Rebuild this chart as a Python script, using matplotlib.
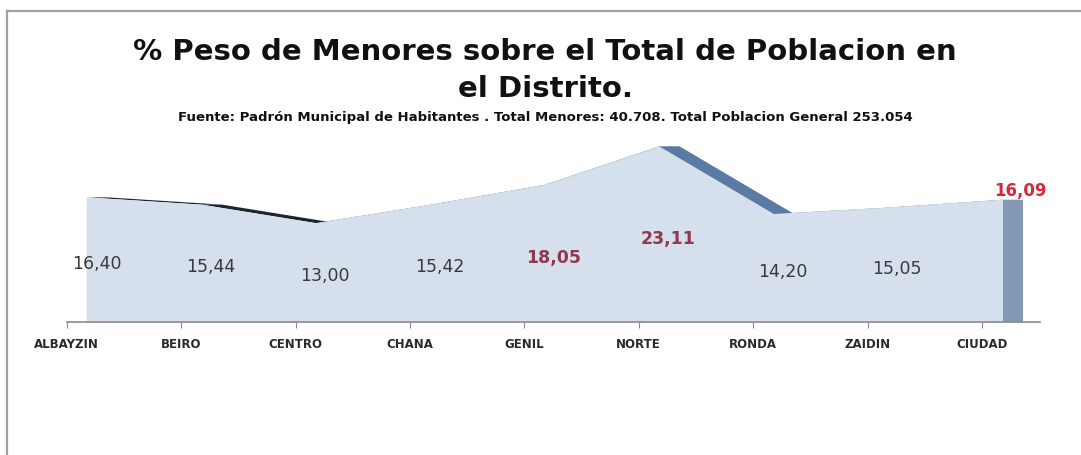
#!/usr/bin/env python3

import matplotlib
matplotlib.use('Agg')
import matplotlib.pyplot as plt
from matplotlib.patches import Polygon, Rectangle
from matplotlib.lines import Line2D
import numpy as np

categories = ['ALBAYZIN', 'BEIRO', 'CENTRO', 'CHANA', 'GENIL',
              'NORTE', 'RONDA', 'ZAIDIN', 'CIUDAD']
values = [16.40, 15.44, 13.00, 15.42, 18.05, 23.11, 14.20, 15.05, 16.09]
value_labels = ['16,40', '15,44', '13,00', '15,42', '18,05',
                '23,11', '14,20', '15,05', '16,09']

W, H = 1081, 456
fig = plt.figure(figsize=(W / 100, H / 100), dpi=100)

# axes placed in pixel terms: first tick at x=66.7, axis line at y=322.7
ax_left, ax_right = 66.7, 1040
ax_bottom, px_per_unit, ymax = 322.7, 7.58, 25
ax = fig.add_axes([ax_left / W, (H - ax_bottom) / H,
                   (ax_right - ax_left) / W, ymax * px_per_unit / H])
ax.set_xlim(0, (ax_right - ax_left) / 114.4)
ax.set_ylim(0, ymax)

x = np.arange(len(categories))
off = 0.175    # front face shift
depth = 0.185  # 3d depth

# top faces of the 3d area (only visible where the line goes down)
top_colors = ['#1c2530', '#1c2530', '#5a7ba3', '#5a7ba3', '#5a7ba3',
              '#5a7ba3', '#5a7ba3', '#5a7ba3']
for i in range(len(x) - 1):
    pts = [(x[i] + off, values[i]), (x[i + 1] + off, values[i + 1]),
           (x[i + 1] + off + depth, values[i + 1]), (x[i] + off + depth, values[i])]
    ax.add_patch(Polygon(pts, closed=True, facecolor=top_colors[i],
                         edgecolor='none', zorder=1))

# right side face
ax.add_patch(Rectangle((x[-1] + off, 0), depth, values[-1],
                       facecolor='#8398b2', edgecolor='none', zorder=1))

# front face
fill_col = '#d5e0ec'
ax.fill_between(x + off, values, 0, facecolor=fill_col, edgecolor=fill_col,
                linewidth=0.8, zorder=2)

# data labels
label_colors = ['#3a3a3a'] * 4 + ['#8e3a4e', '#8e3a4e'] + ['#3a3a3a'] * 2 + ['#d9283a']
for i, (v, lab) in enumerate(zip(values, value_labels)):
    if i == len(values) - 1:
        ax.text(x[i] + 0.34, v + 1.3, lab, ha='center', va='center',
                fontsize=12, fontweight='bold', color=label_colors[i],
                family='DejaVu Sans', zorder=5, clip_on=False)
    else:
        bold = 'bold' if label_colors[i] != '#3a3a3a' else 'normal'
        ax.text(x[i] + 0.26, v * 0.475, lab, ha='center', va='center',
                fontsize=12.5, fontweight=bold, color=label_colors[i],
                family='DejaVu Sans', zorder=5)

# axis styling
for s in ['top', 'right', 'left']:
    ax.spines[s].set_visible(False)
ax.spines['bottom'].set_color('#8a8a8a')
ax.spines['bottom'].set_linewidth(1.2)
ax.spines['bottom'].set_zorder(3)
ax.set_yticks([])
ax.set_xticks(x)
ax.set_xticklabels(categories, fontsize=8.5, color='#2a2a2a',
                   family='DejaVu Sans', fontweight='bold')
ax.tick_params(axis='x', length=4, color='#8a8a8a', pad=7)
ax.patch.set_alpha(0)

# titles
title_font = 'DejaVu Sans'
fig.text(545 / W, 1 - 52 / H, '% Peso de Menores sobre el Total de Poblacion en',
         ha='center', va='center', fontsize=21, fontweight='bold',
         family=title_font, color='#111111')
fig.text(546 / W, 1 - 89 / H, 'el Distrito.',
         ha='center', va='center', fontsize=21, fontweight='bold',
         family=title_font, color='#111111')
fig.text(545 / W, 1 - 118 / H,
         'Fuente: Padrón Municipal de Habitantes . Total Menores: 40.708. '
         'Total Poblacion General 253.054',
         ha='center', va='center', fontsize=9.5, fontweight='bold',
         family=title_font, color='#111111')

# chart border (left and top)
fig.add_artist(Line2D([7.5 / W, 7.5 / W], [0, 1 - 11.5 / H],
                      transform=fig.transFigure, color='#a0a0a0', lw=1.6))
fig.add_artist(Line2D([7.5 / W, 1], [1 - 11.5 / H, 1 - 11.5 / H],
                      transform=fig.transFigure, color='#a0a0a0', lw=1.6))

fig.savefig('out.png', dpi=100)
